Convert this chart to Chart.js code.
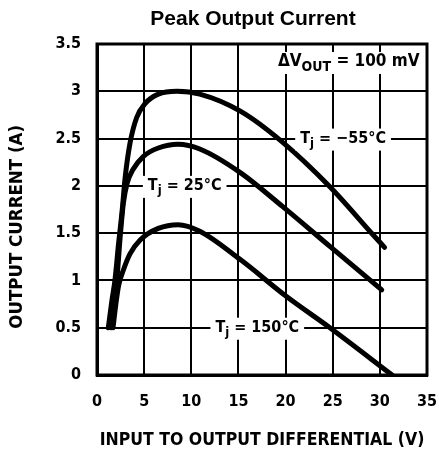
<!DOCTYPE html>
<html>
<head>
<meta charset="utf-8">
<script src="https://cdn.jsdelivr.net/npm/chart.js@4"></script>
<style>
  html, body { margin: 0; padding: 0; background: #fff; }
  #wrap { width: 439px; height: 455px; }
</style>
</head>
<body>
<div id="wrap"><canvas id="currentChart" width="439" height="455"></canvas></div>
<script>
// values
const xTicks = [0, 5, 10, 15, 20, 25, 30, 35];
const yTicks = [0, 0.5, 1, 1.5, 2, 2.5, 3, 3.5];

const xCold = [1.2, 1.6, 1.9, 2.3, 2.65, 3.0, 3.5, 4.2, 5.1, 6.5, 8.5, 10.9, 15.2, 19.7, 24.7, 29.3, 30.5];
const yCold = [0.5, 0.8, 1.0, 1.4, 1.72, 2.1, 2.45, 2.72, 2.87, 2.97, 3.0, 2.97, 2.79, 2.46, 1.99, 1.48, 1.35];

const xRoom = [1.5, 1.8, 2.1, 2.45, 2.8, 3.2, 3.8, 4.9, 6.5, 8.6, 10.9, 15.2, 19.7, 24.7, 30.2];
const yRoom = [0.5, 0.75, 1.0, 1.45, 1.82, 2.03, 2.17, 2.31, 2.4, 2.44, 2.39, 2.14, 1.78, 1.36, 0.9];

const xHot = [1.7, 2.0, 2.3, 2.8, 3.5, 4.6, 6.5, 8.6, 10.9, 15.2, 20.1, 24.7, 31.3];
const yHot = [0.5, 0.75, 0.95, 1.11, 1.28, 1.43, 1.55, 1.59, 1.52, 1.22, 0.83, 0.5, 0];

const seriesNames = ['Tj = -55°C', 'Tj = 25°C', 'Tj = 150°C'];

const titleText = 'Peak Output Current';
const xTitle = 'INPUT TO OUTPUT DIFFERENTIAL (V)';
const yTitle = 'OUTPUT CURRENT (A)';

const narrow = "'DejaVu Sans Condensed', 'DejaVu Sans', sans-serif";

const toPoints = (xs, ys) => xs.map((x, i) => ({ x: x, y: ys[i] }));

const lineStyle = {
    borderColor: '#000',
    borderWidth: 5,
    pointRadius: 0,
    borderCapStyle: 'round',
    cubicInterpolationMode: 'monotone',
    fill: false
};

// labels on the curves: main text, subscript, rest, anchored in data units
const notes = [
    { main: 'T', sub: 'j', rest: ' = \u221255\u00b0C', x: 26.1, y: 2.5, size: 16 },
    { main: 'T', sub: 'j', rest: ' = 25\u00b0C', x: 9.3, y: 2.0, size: 16 },
    { main: 'T', sub: 'j', rest: ' = 150\u00b0C', x: 17.0, y: 0.5, size: 16 },
    { main: '\u0394V', sub: 'OUT', rest: ' = 100 mV', x: 26.7, y: 3.31, size: 17 }
];

const notePlugin = {
    id: 'notePlugin',
    afterDatasetsDraw: (chart) => {
        const { ctx, scales, chartArea } = chart;
        ctx.save();
        ctx.textBaseline = 'middle';
        ctx.textAlign = 'left';
        notes.forEach(n => {
            const big = 'bold ' + n.size + 'px ' + narrow;
            const small = 'bold ' + (n.size - 3) + 'px ' + narrow;
            ctx.font = big;
            const w1 = ctx.measureText(n.main).width;
            const w3 = ctx.measureText(n.rest).width;
            ctx.font = small;
            const w2 = ctx.measureText(n.sub).width;
            const total = w1 + w2 + w3;
            const cx = scales.x.getPixelForValue(n.x);
            const cy = scales.y.getPixelForValue(n.y);
            const left = cx - total / 2;
            ctx.fillStyle = '#fff';
            ctx.fillRect(left - 5, cy - 10, total + 10, 22);
            ctx.fillStyle = '#000';
            ctx.font = big;
            ctx.fillText(n.main, left, cy);
            ctx.font = small;
            ctx.fillText(n.sub, left + w1, cy + 5);
            ctx.font = big;
            ctx.fillText(n.rest, left + w1 + w2, cy);
        });

        // chart title
        ctx.font = 'bold 21px "Liberation Sans", Arial, sans-serif';
        ctx.textAlign = 'center';
        ctx.fillText(titleText, (chartArea.left + chartArea.right) / 2 - 9, 19);

        // heavier frame
        ctx.lineWidth = 3;
        ctx.strokeStyle = '#000';
        ctx.strokeRect(chartArea.left, chartArea.top, chartArea.right - chartArea.left, chartArea.bottom - chartArea.top);
        ctx.restore();
    }
};

const data = {
    datasets: [
        Object.assign({ label: seriesNames[0], data: toPoints(xCold, yCold) }, lineStyle),
        Object.assign({ label: seriesNames[1], data: toPoints(xRoom, yRoom) }, lineStyle),
        Object.assign({ label: seriesNames[2], data: toPoints(xHot, yHot) }, lineStyle)
    ]
};

const tickFont = { family: narrow, size: 16, weight: 'bold' };

const options = {
    responsive: false,
    animation: false,
    layout: { padding: { top: 44, right: 12, left: 0, bottom: 0 } },
    plugins: {
        legend: { display: false },
        tooltip: { enabled: false },
        title: { display: false }
    },
    scales: {
        x: {
            type: 'linear',
            min: 0,
            max: 35,
            afterBuildTicks: (scale) => { scale.ticks = xTicks.map(v => ({ value: v })); },
            afterFit: (scale) => {
                scale.height = 80;
                scale.paddingLeft = 0;
                scale.paddingRight = 0;
            },
            grid: { color: '#000', lineWidth: 2, drawTicks: false },
            border: { color: '#000', width: 3 },
            ticks: { color: '#000', font: tickFont, padding: 17, maxRotation: 0 },
            title: {
                display: true,
                text: xTitle,
                color: '#000',
                font: { family: narrow, size: 17.5, weight: 'bold' },
                padding: { top: 0, bottom: 4 }
            }
        },
        y: {
            type: 'linear',
            min: 0,
            max: 3.5,
            afterBuildTicks: (scale) => { scale.ticks = yTicks.map(v => ({ value: v })); },
            afterFit: (scale) => { scale.width = 97; },
            grid: { color: '#000', lineWidth: 2, drawTicks: false },
            border: { color: '#000', width: 3 },
            ticks: {
                color: '#000',
                font: tickFont,
                padding: 16,
                callback: (v) => String(v)
            },
            title: {
                display: true,
                // trailing spaces nudge the rotated title down to where the original sits
                text: yTitle + '      ',
                color: '#000',
                font: { family: narrow, size: 18.5, weight: 'bold' },
                padding: { top: 6, bottom: 0 }
            }
        }
    }
};

new Chart(document.getElementById('currentChart').getContext('2d'), {
    type: 'line',
    data: data,
    options: options,
    plugins: [notePlugin]
});
</script>
</body>
</html>
